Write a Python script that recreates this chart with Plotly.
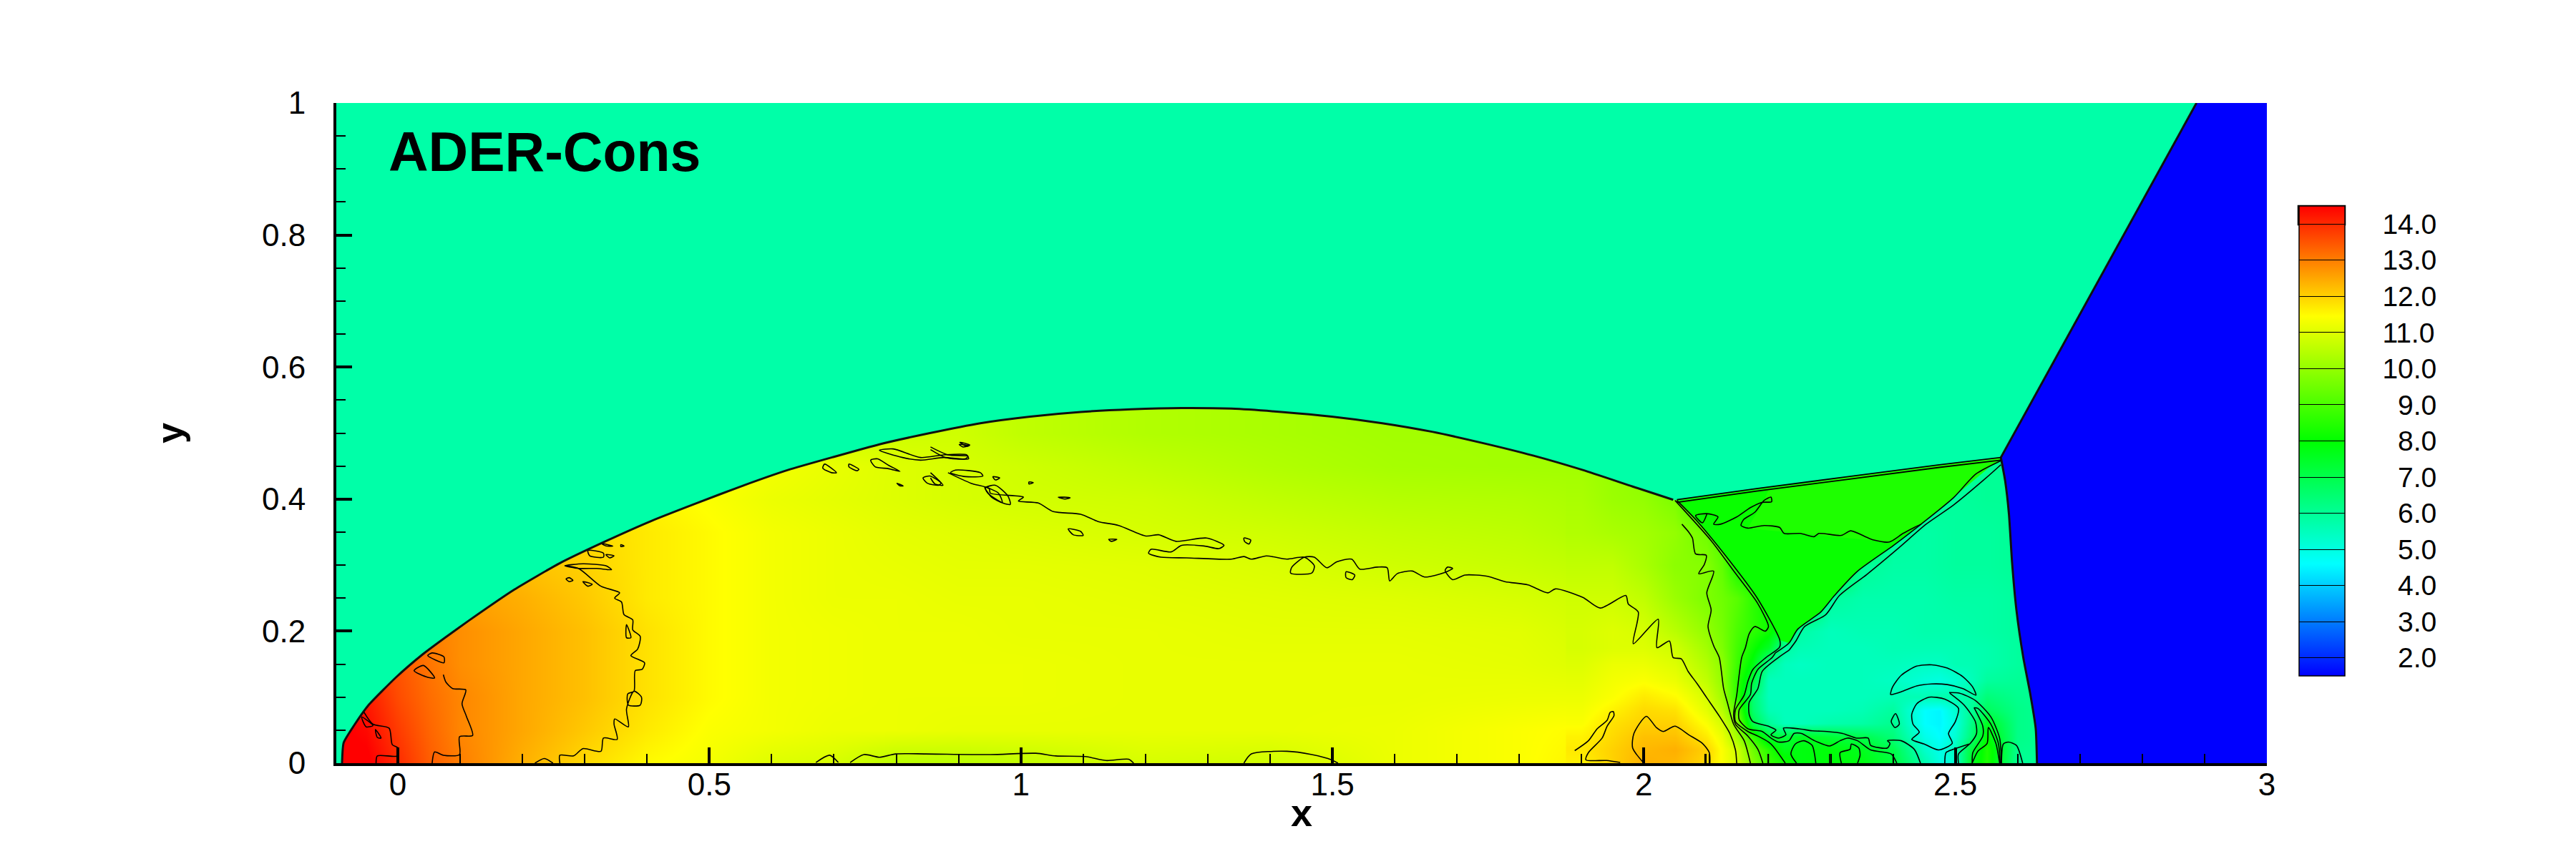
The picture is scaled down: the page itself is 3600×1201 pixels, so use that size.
import plotly.graph_objects as go

# ---------- colour legend ----------
PAD = "\u00a0" * 4
legend_levels = [2, 3, 4, 5, 6, 7, 8, 9, 10, 11, 12, 13, 14]
legend_labels = [PAD + "\u00a0\u00a02.0", PAD + "\u00a0\u00a03.0", PAD + "\u00a0\u00a04.0", PAD + "\u00a0\u00a05.0", PAD + "\u00a0\u00a06.0", PAD + "\u00a0\u00a07.0",
                 PAD + "\u00a0\u00a08.0", PAD + "\u00a0\u00a09.0", PAD + "10.0", PAD + "11.0", PAD + "12.0", PAD + "13.0", PAD + "14.0"]
scale_values = [1.5, 4.6, 8.0, 11.45, 14.5]
scale_colors = [(0, 0, 255), (0, 255, 255), (0, 255, 0), (255, 255, 0), (255, 0, 0)]

# ---------- field: x <= 1.9 ----------
left_x = [-0.1, -0.05, 0, 0.05, 0.1, 0.2, 0.3, 0.4, 0.5, 0.6, 0.7, 0.8, 0.9, 1.0, 1.2, 1.4, 1.6, 1.8, 1.9]
left_y = [0, 0.05, 0.1, 0.15, 0.2, 0.25, 0.3, 0.35, 0.4, 0.45, 0.5, 0.55]
left_z = [
 [14.6,14.6,14.0,13.4,13.0,12.4,11.9,11.5,11.3,11.0,10.9,10.5,10.5,10.6,10.9,10.8,11.2,11.4,11.6],
 [14.6,14.4,13.8,13.3,12.9,12.5,12.1,11.7,11.4,11.3,11.2,11.2,11.15,11.15,11.15,11.15,11.2,11.4,11.5],
 [14.4,14.2,13.6,13.2,12.9,12.5,12.2,11.8,11.5,11.3,11.25,11.2,11.2,11.2,11.15,11.15,11.15,11.2,11.2],
 [14.0,13.8,13.5,13.1,12.8,12.5,12.2,11.8,11.5,11.3,11.25,11.2,11.2,11.2,11.15,11.15,11.15,11.1,11.0],
 [13.5,13.4,13.3,13.0,12.8,12.5,12.2,11.8,11.5,11.3,11.25,11.2,11.2,11.15,11.15,11.1,11.1,11.05,10.9],
 [13.0,13.0,13.0,12.8,12.6,12.4,12.1,11.7,11.5,11.3,11.2,11.2,11.15,11.15,11.1,11.05,11.0,10.9,10.8],
 [12.4,12.4,12.4,12.4,12.4,12.2,12.0,11.7,11.5,11.3,11.2,11.15,11.1,11.1,11.05,10.95,10.8,10.7,10.6],
 [12.1,12.1,12.1,12.1,12.1,12.1,11.95,11.7,11.5,11.3,11.2,11.1,11.05,11.0,10.9,10.8,10.65,10.55,10.4],
 [11.8,11.8,11.8,11.8,11.8,11.8,11.8,11.6,11.4,11.2,11.1,11.0,10.9,10.85,10.8,10.6,10.45,10.4,10.3],
 [11.6,11.6,11.6,11.6,11.6,11.6,11.6,11.6,11.5,11.3,11.15,11.0,10.9,10.8,10.6,10.4,10.25,10.2,10.2],
 [11.1,11.1,11.1,11.1,11.1,11.1,11.1,11.1,11.1,11.0,10.8,10.8,10.8,10.6,10.4,10.3,10.2,10.2,10.1],
 [11.1,11.1,11.1,11.1,11.1,11.1,11.1,11.1,11.1,11.0,10.8,10.8,10.8,10.6,10.4,10.3,10.2,10.2,10.1],
]

# ---------- field: x >= 1.9 ----------
right_x = [1.9, 1.95, 2.0, 2.05, 2.1, 2.125, 2.15, 2.175, 2.2, 2.225, 2.25, 2.3, 2.35, 2.4, 2.45, 2.475, 2.5, 2.525, 2.55, 2.6, 2.65]
right_y = [0, 0.02, 0.04, 0.06, 0.08, 0.1, 0.125, 0.15, 0.175, 0.2, 0.25, 0.3, 0.35, 0.4, 0.5]
right_z = [
 [11.6,12.0,12.4,12.3,11.9,11.4,10.9,9.8,8.8,8.3,7.8,7.9,7.8,7.2,5.7,5.0,5.2,7.5,8.4,6.0,6.0],
 [11.7,12.0,12.3,12.4,12.0,11.4,10.8,9.5,8.5,7.7,7.8,7.9,7.6,7.0,5.3,4.9,5.5,7.2,8.4,6.1,6.0],
 [11.6,11.9,12.2,12.2,11.7,11.2,10.2,8.7,7.4,7.2,7.6,7.3,7.0,6.4,4.9,4.6,5.2,6.4,8.0,6.2,6.0],
 [11.4,11.8,12.0,12.0,11.4,10.9,9.8,7.0,6.0,5.5,5.5,5.7,5.8,6.1,4.6,4.5,5.0,6.2,7.6,6.2,6.0],
 [11.3,11.6,11.9,11.8,11.1,10.5,9.2,6.6,5.6,5.5,5.5,5.5,5.6,5.9,4.6,4.5,5.2,6.0,6.8,6.2,6.0],
 [11.2,11.4,11.7,11.5,10.9,10.2,8.6,6.5,5.5,5.5,5.5,5.5,5.5,5.6,5.6,5.7,5.7,5.8,6.4,6.1,6.0],
 [11.1,11.3,11.4,11.2,10.6,10.0,8.6,7.2,5.5,5.5,5.5,5.5,5.5,5.4,5.1,5.0,5.2,5.5,5.9,6.0,6.0],
 [11.0,11.2,11.2,11.0,10.4,9.9,8.8,7.8,6.0,5.5,5.4,5.5,5.5,5.5,5.4,5.4,5.6,5.6,5.7,5.9,6.0],
 [10.9,11.0,11.0,10.8,10.2,9.7,8.9,8.2,7.5,5.9,5.6,5.5,5.5,5.6,5.6,5.6,5.6,5.65,5.7,5.9,6.0],
 [10.9,11.0,10.9,10.5,10.0,9.6,9.0,8.6,8.2,7.2,5.8,5.5,5.6,5.6,5.7,5.7,5.7,5.75,5.8,5.9,6.0],
 [10.8,10.8,10.6,10.1,9.7,9.5,9.2,8.6,8.1,8.0,7.8,5.9,5.7,5.7,5.7,5.75,5.8,5.8,5.8,5.9,6.0],
 [10.6,10.6,10.3,9.9,9.8,9.3,8.2,8.1,8.0,8.0,8.0,8.0,6.0,5.8,5.8,5.85,5.9,5.9,5.9,6.0,6.0],
 [10.4,10.3,10.2,10.0,9.5,9.0,8.2,8.1,8.0,8.0,8.0,8.0,8.0,5.9,5.8,5.85,5.9,5.9,5.9,6.0,6.0],
 [10.3,10.1,10.0,9.7,8.3,8.1,8.1,8.1,8.1,8.1,8.1,8.1,8.1,8.1,6.0,5.95,5.9,5.95,6.0,6.0,6.0],
 [10.1,10.0,9.8,9.5,8.3,8.1,8.1,8.1,8.1,8.1,8.1,8.1,8.1,8.1,6.0,5.95,5.9,5.95,6.0,6.0,6.0],
]

# ---------- uniform states ----------
ambient_value = 5.76
unshocked_value = 1.5
triangle_value = 8.12
triangle_top_value = 8.4

# ---------- shock fronts (x, y) ----------
bow_shock = [(-0.0896,0),(-0.087,.031),(-0.069,.059),(-0.047,.088),(-0.003,.130),(.040,.165),(.077,.191),(.114,.216),
 (.187,.263),(.260,.303),(.333,.336),(.407,.367),(.480,.394),(.553,.420),(.626,.444),(.700,.464),(.773,.483),(.854,.500),
 (.935,.515),(1.015,.525),(1.096,.532),(1.177,.536),(1.258,.538),(1.338,.537),(1.418,.532),(1.499,.525),(1.58,.515),
 (1.66,.502),(1.741,.485),(1.822,.466),(1.902,.444),(1.982,.419),(2.047,.399)]
upper_shock = [(2.053,.399),(2.181,.416),(2.328,.434),(2.474,.452),(2.573,.463)]
oblique_shock = [(2.573,.463),(2.887,1.0)]
mach_stem = [(2.573,.463),(2.580,.427),(2.586,.377),(2.591,.304),(2.598,.232),(2.609,.160),(2.62,.106),(2.629,.052),(2.631,0)]
slip_upper = [(2.573,.458),(2.533,.438),(2.497,.402),(2.445,.362),(2.401,.330),(2.342,.290),(2.306,.254),(2.284,.229),(2.247,.203),(2.233,.182),(2.211,.167)]
slip_lower = [(2.573,.452),(2.548,.431),(2.497,.391),(2.453,.362),(2.409,.326),(2.358,.286),(2.314,.254),(2.292,.225),(2.258,.207),(2.244,.185),(2.233,.171)]
reflected_a = [(2.053,.398),(2.086,.366),(2.138,.306),(2.182,.250),(2.218,.187),(2.218,.176),(2.196,.160),(2.175,.142),(2.167,.124),(2.161,.103),(2.147,.081),(2.147,.063),(2.167,.048),(2.183,.041),(2.200,.032),(2.208,.025),(2.227,0)]
reflected_b = [(2.050,.398),(2.108,.337),(2.145,.290),(2.182,.243),(2.200,.207),(2.195,.200),(2.178,.207),(2.169,.196),(2.163,.175),(2.157,.160),(2.149,.103),(2.144,.074),(2.147,.059),(2.167,.041),(2.183,.021),(2.191,0)]
triangle_top = [(2.193,.398),(2.167,.356),(2.394,.335),(2.445,.362),(2.573,.463),(2.328,.434),(2.2,.414)]

# ---------- contour lines (x, y) ----------
contour_11_main = [(.883,.440),(.920,.424),(.949,.416),(.951,.409),(1.004,.403),(.996,.397),(1.028,.394),(1.052,.381),(1.096,.377),(1.124,.366),(1.157,.360),
 (1.201,.344),(1.221,.346),(1.249,.336),(1.298,.341),(1.326,.330),(1.318,.325),(1.294,.329),(1.258,.330),(1.241,.320),(1.209,.324),(1.205,.318),
 (1.225,.312),(1.266,.311),(1.338,.309),(1.358,.313),(1.370,.309),(1.394,.314),(1.427,.309),(1.455,.312),(1.471,.299),(1.467,.288),(1.433,.288),
 (1.435,.297),(1.455,.312),(1.471,.312),(1.491,.296),(1.507,.305),(1.531,.309),(1.544,.294),(1.572,.297),(1.588,.296),(1.592,.276),(1.604,.287),
 (1.628,.291),(1.648,.282),(1.681,.289),(1.693,.295),(1.685,.297),(1.681,.292),(1.693,.278),(1.713,.285),(1.749,.283),(1.777,.275),(1.814,.270),
 (1.846,.258),(1.858,.264),(1.902,.251),(1.930,.235),(1.971,.254),(1.975,.241),(1.991,.229),(1.983,.181),(2.023,.218),(2.021,.175),(2.041,.185),
 (2.047,.160),(2.060,.158),(2.071,.139),(2.085,.121),(2.101,.099),(2.122,.070),(2.138,.045),(2.147,.020),(2.149,0)]
contour_12_left = [(.268,.299),(.290,.295),(.326,.268),(.356,.258),(.348,.250),(.359,.244),(.363,.225),(.377,.217),(.377,.202),(.389,.192),(.385,.173),(.374,.163),
 (.396,.152),(.392,.142),(.381,.140),(.379,.109),(.369,.105),(.370,.088),(.389,.088),(.391,.100),(.379,.109),(.367,.082),(.370,.055),(.348,.067),
 (.347,.059),(.352,.036),(.330,.038),(.326,.018),(.297,.022),(.282,.011),(.260,.012),(.260,0)]
contour_13 = [(.073,.134),(.077,.123),(.088,.113),(.109,.111),(.103,.090),(.110,.071),(.120,.042),(.099,.040),(.099,.013),(.073,.012),(.059,.017),(.055,0)]
contour_14 = [(-.055,.078),(-.040,.059),(-.014,.053),(-.009,.028),(0,.023),(0,.011),(-.033,.011),(-.035,0)]
contour_bottom_a = [(.671,.001),(.693,.012),(.707,.001)]
contour_bottom_b = [(.726,.001),(.748,.013),(.773,.009),(.799,.014),(.847,.014),(.951,.013),(1.024,.015),(1.056,.011),(1.104,.010),(1.137,.004),(1.173,.006),(1.181,0)]
contour_bottom_c = [(1.358,0),(1.370,.014),(1.427,.018),(1.467,.013),(1.499,.005),(1.509,0)]
contour_bottom_d = [(.220,0),(.235,.007),(.249,0)]
contour_12_d = [(1.889,.019),(1.911,.034),(1.925,.052),(1.941,.065),(1.946,.077),(1.951,.078),(1.952,.072),(1.941,.056),(1.933,.038),(1.911,.016),(1.907,.005),(1.940,.004),(1.962,.001)]
contour_12_e = [(1.999,.001),(1.982,.023),(1.984,.045),(2.004,.071),(2.020,.054),(2.031,.048),(2.050,.056),(2.072,.043),(2.094,.030),(2.105,.016),(2.106,0)]
contour_10 = [(2.061,.362),(2.072,.350),(2.078,.341),(2.083,.317),(2.100,.315),(2.097,.301),(2.088,.287),(2.112,.291),(2.101,.258),(2.108,.232),(2.103,.207),(2.112,.178),(2.121,.160),(2.128,.113),(2.134,.092),(2.144,.059),(2.161,.034),(2.171,0)]
contour_slip_a = [(2.211,.167),(2.206,.160),(2.183,.142),(2.173,.121),(2.171,.104),(2.153,.081),(2.153,.066),(2.167,.052),(2.190,.048),(2.204,.038),(2.216,.032),(2.233,.034),(2.241,.045),(2.253,.045),(2.274,.034),(2.298,.026),(2.315,.034),(2.327,.038),(2.343,.034),(2.364,.020),(2.397,.014),(2.406,0)]
contour_slip_b = [(2.233,.171),(2.216,.160),(2.190,.139),(2.183,.113),(2.169,.092),(2.169,.074),(2.175,.063),(2.200,.056),(2.212,.050),(2.204,.043),(2.216,.038),(2.228,.043),(2.224,.053),(2.249,.052),(2.270,.049),(2.294,.048),(2.319,.045),(2.341,.038),(2.360,.038),(2.364,.027),(2.391,.023),(2.395,.030),(2.391,.034),(2.413,.034),(2.434,.021),(2.444,0)]
contour_jet_a = [(2.245,0),(2.236,.014),(2.243,.029),(2.257,.034),(2.270,.027),(2.276,0)]
contour_jet_b = [(2.317,0),(2.315,.016),(2.331,.021),(2.333,.029),(2.345,.023),(2.347,.012),(2.343,0)]
contour_triangle = [(2.445,.362),(2.434,.357),(2.416,.348),(2.394,.335),(2.369,.338),(2.358,.342),(2.332,.352),(2.317,.345),(2.281,.348),(2.273,.343),(2.251,.348),(2.225,.348),(2.218,.357),(2.193,.360),(2.167,.356),(2.156,.360),(2.160,.369),(2.178,.380),(2.193,.398),(2.204,.403),(2.205,.396),(2.189,.395),(2.171,.387),(2.149,.373),(2.123,.362),(2.112,.362),(2.119,.373),(2.101,.378),(2.083,.375),(2.094,.364),(2.101,.377)]
vortex_crescent = [(2.396,.104),(2.399,.115),(2.413,.133),(2.438,.147),(2.462,.149),(2.487,.144),(2.512,.131),(2.528,.115),(2.533,.103),(2.512,.113),(2.487,.119),(2.462,.120),(2.438,.117),(2.413,.108),(2.399,.104),(2.396,.104)]
vortex_core = [(2.430,.074),(2.438,.090),(2.458,.100),(2.483,.097),(2.505,.083),(2.500,.063),(2.489,.045),(2.495,.030),(2.473,.020),(2.450,.029),(2.430,.036),(2.442,.047),(2.432,.059),(2.430,.074)]
vortex_small = [(2.397,.063),(2.404,.075),(2.410,.059),(2.403,.054),(2.397,.063)]
swirl_a = [(2.490,.107),(2.507,.106),(2.532,.095),(2.557,.070),(2.571,.038),(2.574,0)]
swirl_b = [(2.491,.106),(2.514,.088),(2.532,.063),(2.534,.045),(2.524,.030),(2.505,.014),(2.505,0)]
swirl_c = [(2.530,.084),(2.536,.083),(2.557,.059),(2.569,.030),(2.572,0)]
swirl_d = [(2.530,.084),(2.544,.056),(2.544,.041),(2.528,.016),(2.527,0)]
swirl_e = [(2.527,0),(2.536,.018),(2.551,.030),(2.553,.054),(2.565,.030),(2.571,0)]
swirl_f = [(2.574,0),(2.577,.029),(2.585,.032),(2.598,.027),(2.608,0)]
swirl_g = [(2.483,0),(2.485,.016),(2.497,.021),(2.522,.029)]
stub_lines = [[(2.098,0),(2.098,.014)],[(2.105,0),(2.105,.014)],[(2.200,0),(2.200,.014)],[(2.298,0),(2.298,.014)],[(2.400,0),(2.400,.012)],[(2.600,0),(2.600,.014)]]
islands = [
 [(.759,.459),(.770,.461),(.788,.451),(.806,.442),(.788,.446),(.766,.449),(.759,.459)],
 [(.843,.432),(.854,.435),(.872,.424),(.868,.421),(.850,.424),(.843,.432)],
 [(.685,.453),(.704,.440),(.696,.440),(.682,.447),(.685,.453)],
 [(.724,.453),(.740,.445),(.737,.443),(.724,.449),(.724,.453)],
 [(.773,.474),(.795,.476),(.839,.463),(.876,.467),(.913,.467),(.916,.461),(.876,.463),(.839,.459),(.810,.463),(.773,.474)],
 [(.902,.486),(.918,.482),(.913,.480),(.902,.486)],
 [(.942,.418),(.964,.409),(.970,.395),(.953,.403),(.942,.418)],
 [(.801,.424),(.811,.420),(.806,.420),(.801,.424)],
 [(.305,.322),(.330,.318),(.330,.312),(.308,.314),(.305,.322)],
 [(.268,.299),(.297,.302),(.334,.299),(.343,.293),(.319,.295),(.290,.295),(.268,.299)],
 [(.275,.281),(.281,.277),(.275,.275),(.270,.279),(.275,.281)],
 [(.297,.275),(.312,.271),(.305,.268),(.297,.275)],
 [(.334,.316),(.347,.314),(.340,.311),(.334,.316)],
 [(.358,.331),(.363,.329),(.358,.328),(.358,.331)],
 [(.326,.333),(.345,.329),(.334,.329),(.326,.333)],
 [(.026,.140),(.048,.130),(.059,.129),(.041,.148),(.026,.140)],
 [(.048,.163),(.074,.152),(.074,.161),(.055,.167),(.048,.163)],
 [(-.036,.051),(-.027,.038),(-.033,.039),(-.036,.051)],
 [(-.058,.070),(-.040,.057),(-.051,.055),(-.058,.070)],
 [(.367,.210),(.374,.190),(.367,.190),(.367,.210)],
 [(.901,.483),(.917,.481),(.907,.479),(.901,.483)],
 [(.855,.479),(.883,.467),(.915,.465),(.911,.461),(.879,.463),(.855,.475)],
 [(.895,.444),(.935,.440),(.939,.435),(.911,.434),(.887,.440),(.895,.444)],
 [(.955,.434),(.966,.432),(.959,.429),(.955,.434)],
 [(1.013,.426),(1.020,.425),(1.013,.423),(1.013,.426)],
 [(1.060,.403),(1.079,.402),(1.071,.400),(1.060,.403)],
 [(.943,.417),(.959,.421),(.979,.405),(.983,.392),(.971,.394),(.947,.409),(.943,.417)],
 [(1.076,.355),(1.096,.351),(1.100,.345),(1.084,.346),(1.076,.355)],
 [(1.141,.339),(1.154,.339),(1.145,.336),(1.141,.339)],
 [(1.358,.341),(1.369,.338),(1.366,.332),(1.359,.336),(1.358,.341)],
 [(1.522,.290),(1.536,.285),(1.532,.278),(1.522,.281),(1.522,.290)],
 [(.855,.440),(.875,.421),(.862,.423),(.855,.432)],
]

thin_lines = [contour_11_main, contour_12_left, contour_13, contour_14, contour_bottom_a, contour_bottom_b, contour_bottom_c,
              contour_bottom_d, contour_12_d, contour_12_e, contour_10, contour_slip_a, contour_slip_b, contour_jet_a, contour_jet_b,
              contour_triangle, vortex_crescent, vortex_core, vortex_small, swirl_a, swirl_b, swirl_c, swirl_d, swirl_e, swirl_f, swirl_g,
              slip_upper, slip_lower, reflected_a, reflected_b] + stub_lines + islands

# ---------- axes and text ----------
x_tick_values = [0, 0.5, 1, 1.5, 2, 2.5, 3]
x_tick_labels = ["0", "0.5", "1", "1.5", "2", "2.5", "3"]
y_tick_values = [0, 0.2, 0.4, 0.6, 0.8, 1]
y_tick_labels = ["0", "0.2", "0.4", "0.6", "0.8", "1"]
x_range = [-0.0988, 3]
y_range = [0, 1]
title_text = "ADER-Cons"
x_title = "x"
y_title = "y"


def value_color(v):
    for i in range(len(scale_values) - 1):
        a, b = scale_values[i], scale_values[i + 1]
        if a <= v <= b:
            t = (v - a) / (b - a)
            c = [round(p + (q - p) * t) for p, q in zip(scale_colors[i], scale_colors[i + 1])]
            return f"rgb({c[0]},{c[1]},{c[2]})"
    return "rgb(0,0,0)"


def unzip(points):
    return [p[0] for p in points], [p[1] for p in points]


def joined(lines):
    xs, ys = [], []
    for line in lines:
        a, b = unzip(line)
        xs += a + [None]
        ys += b + [None]
    return xs, ys


def region(points, value):
    a, b = unzip(points)
    return go.Scatter(x=a, y=b, mode="lines", fill="toself", fillcolor=value_color(value),
                      line=dict(color=value_color(value), width=0.5), hoverinfo="skip", showlegend=False)


fig = go.Figure()
fig.add_trace(go.Heatmap(x=left_x, y=left_y, z=left_z, coloraxis="coloraxis", zsmooth="best", hoverinfo="skip"))
fig.add_trace(go.Heatmap(x=right_x, y=right_y, z=right_z, coloraxis="coloraxis", zsmooth="best", hoverinfo="skip"))

ambient = [(-0.1, 0)] + bow_shock + upper_shock + [(2.887, 1.0), (-0.1, 1.0)]
fig.add_trace(region(ambient, ambient_value))
fig.add_trace(region([(2.887, 1.0), (3, 1), (3, 0)] + mach_stem[::-1], unshocked_value))
triangle = upper_shock + slip_upper[:10] + [(2.218, .187), (2.182, .250), (2.138, .306), (2.086, .366)]
fig.add_trace(region(triangle, triangle_value))
fig.add_trace(region(triangle_top, triangle_top_value))

xs, ys = joined(thin_lines)
fig.add_trace(go.Scatter(x=xs, y=ys, mode="lines", line=dict(color="black", width=1.6, shape="spline", smoothing=0.7), hoverinfo="skip", showlegend=False))
xs, ys = joined([bow_shock, oblique_shock, mach_stem])
fig.add_trace(go.Scatter(x=xs, y=ys, mode="lines", line=dict(color="#101010", width=3, shape="spline", smoothing=0.5), hoverinfo="skip", showlegend=False))
xs, ys = joined([upper_shock, [(a, b - .004) for a, b in upper_shock]])
fig.add_trace(go.Scatter(x=xs, y=ys, mode="lines", line=dict(color="black", width=1.8), hoverinfo="skip", showlegend=False))

# layout geometry of the reference, in pixels
W, H = 3600, 1201
L, R, T, B = 470, 3168, 144, 1067
PW, PH = R - L, B - T
font = "Liberation Sans, Arial, sans-serif"

axis_common = dict(ticks="inside", showgrid=False, zeroline=False, showline=True, linecolor="black", linewidth=4,
                   tickcolor="black", ticklen=22, tickwidth=3.5, tickfont=dict(family=font, size=44, color="black"))
minor_common = dict(ticks="inside", ticklen=13, tickwidth=1.5, tickcolor="black", showgrid=False)

fig.update_layout(
    width=W, height=H, margin=dict(l=L, r=W - R, t=T, b=H - B), paper_bgcolor="white", plot_bgcolor="white",
    showlegend=False,
    coloraxis=dict(
        cmin=1.5, cmax=14.5,
        colorscale=[[(v - 1.5) / 13, f"rgb{c}"] for v, c in zip(scale_values, scale_colors)],
        colorbar=dict(
            thicknessmode="pixels", thickness=64, lenmode="pixels", len=657,
            x=(3213 - L) / PW, xanchor="left", y=(B - 616.5) / PH, yanchor="middle", xpad=0, ypad=0,
            tickmode="array", tickvals=legend_levels, ticktext=legend_labels,
            ticks="inside", ticklen=64, tickwidth=1.2, tickcolor="black",
            tickfont=dict(family=font, size=39, color="black"), ticklabelposition="outside",
            outlinecolor="black", outlinewidth=1.5,
        ),
    ),
    xaxis=dict(range=x_range, tickmode="array", tickvals=x_tick_values, ticktext=x_tick_labels,
               minor=dict(dtick=0.1, tick0=0, **minor_common), ticklabelstandoff=-12, **axis_common),
    yaxis=dict(range=y_range, tickmode="array", tickvals=y_tick_values, ticktext=y_tick_labels,
               minor=dict(dtick=0.05, tick0=0, **minor_common),
               title=dict(text=f"<b>{y_title}</b>", font=dict(family=font, size=52, color="black"), standoff=95),
               ticklabelstandoff=30, **axis_common),
    annotations=[
        dict(text=f"<b>{title_text}</b>", xref="paper", yref="paper", x=(541 - L) / PW, y=(B - 212) / PH,
             xanchor="left", yanchor="middle", showarrow=False, font=dict(family=font, size=77, color="black")),
        dict(text=f"<b>{x_title}</b>", xref="paper", yref="paper", x=0.5, y=(B - 1136) / PH,
             xanchor="center", yanchor="middle", showarrow=False, font=dict(family=font, size=54, color="black")),
    ],
    shapes=[dict(type="rect", xref="paper", yref="paper", x0=(3212 - L) / PW, x1=(3277 - L) / PW,
                 y0=(B - 314) / PH, y1=(B - 288) / PH, line=dict(color="black", width=2.5), fillcolor="rgba(0,0,0,0)")],
)

fig.write_html("out.html", config={"displayModeBar": False},
               post_script="document.body.style.margin='0';document.documentElement.style.overflow='hidden';")
